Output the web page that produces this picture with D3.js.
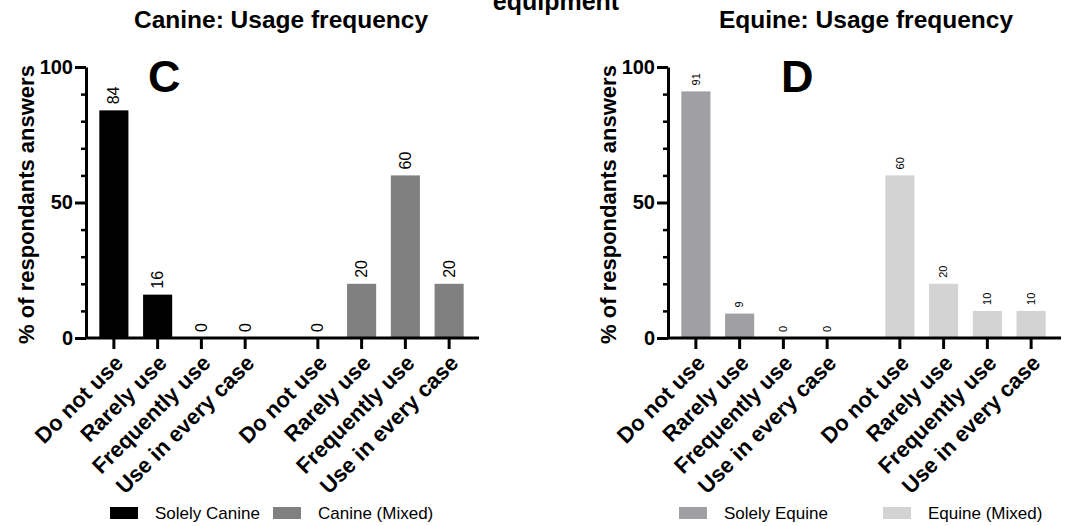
<!DOCTYPE html>
<html>
<head>
<meta charset="utf-8">
<script src="https://cdn.jsdelivr.net/npm/d3@7"></script>
<style>
  html, body { margin: 0; padding: 0; background: #fff; }
  svg { display: block; font-family: "Liberation Sans", Arial, Helvetica, sans-serif; }
</style>
</head>
<body>
<svg id="chart" width="1084" height="526"></svg>
<script>
// Response categories shared by every group
const categories = ["Do not use", "Rarely use", "Frequently use", "Use in every case"];

// Canine panel (C)
const canineSeries = ["Solely Canine", "Canine (Mixed)"];
const canineSolely = [84, 16, 0, 0];
const canineMixed = [0, 20, 60, 20];
const canineColors = ["#000000", "#808080"];

// Equine panel (D)
const equineSeries = ["Solely Equine", "Equine (Mixed)"];
const equineSolely = [91, 9, 0, 0];
const equineMixed = [60, 20, 10, 10];
const equineColors = ["#a0a0a4", "#d3d3d3"];

// Axis ticks
const yMajorTicks = [0, 50, 100];
const yMinorTicks = [10, 20, 30, 40, 60, 70, 80, 90];

const FONT = "\"Liberation Sans\", Arial, sans-serif";
const svg = d3.select("#chart");

// Overall heading (only its last line fits on the canvas)
svg.append("text")
  .attr("x", 556).attr("y", 10)
  .attr("text-anchor", "middle")
  .style("font-weight", "bold").style("font-size", "25px")
  .text("equipment");

function drawPanel(cfg) {
  const ox = cfg.offsetX;
  const g = svg.append("g").attr("transform", `translate(${ox},0)`);

  const yAxisX = 86, axisY = 338, axisEnd = 479;
  const y = d3.scaleLinear().domain([0, 100]).range([axisY, 67]);

  const outer = d3.scaleBand().domain(cfg.series).range([92, 471]).paddingInner(0.142).paddingOuter(0);
  const inner = d3.scaleBand().domain(categories).range([0, outer.bandwidth()]).paddingInner(0.335).paddingOuter(0.1675);

  // Panel title
  g.append("text")
    .attr("x", cfg.titleX).attr("y", 28)
    .attr("text-anchor", "middle")
    .style("font-weight", "bold").style("font-size", "24.5px")
    .text(cfg.title);

  // Panel letter
  g.append("text")
    .attr("x", cfg.letterX).attr("y", 92)
    .style("font-weight", "bold").style("font-size", "45px")
    .text(cfg.letter);

  // Bars and value labels
  cfg.series.forEach((s, si) => {
    const gx = outer(s);
    const grp = g.append("g").attr("transform", `translate(${gx},0)`);
    const rows = categories.map((c, i) => ({ c, v: cfg.values[si][i] }));

    grp.selectAll("rect").data(rows).join("rect")
      .attr("x", d => inner(d.c))
      .attr("width", inner.bandwidth())
      .attr("y", d => y(d.v))
      .attr("height", d => y(0) - y(d.v))
      .attr("fill", cfg.colors[si]);

    grp.selectAll("text.val").data(rows).join("text")
      .attr("class", "val")
      .attr("transform", d => `translate(${inner(d.c) + inner.bandwidth() / 2},${y(d.v) - 6}) rotate(-90)`)
      .attr("dy", "0.35em")
      .style("font-size", cfg.valueFont)
      .style("fill", "#000")
      .text(d => d.v);

    // Category ticks and rotated labels
    const xa = grp.append("g").attr("transform", `translate(0,${axisY})`)
      .call(d3.axisBottom(inner).tickSize(11).tickSizeOuter(0));
    xa.select(".domain").remove();
    xa.selectAll(".tick line").attr("stroke", "#000").attr("stroke-width", 3);
    xa.selectAll(".tick text")
      .attr("x", 0).attr("y", 0).attr("dy", "0.35em")
      .attr("transform", "translate(5,21) rotate(-45)")
      .style("text-anchor", "end")
      .style("font-weight", "bold").style("font-size", "22px")
      .style("font-family", FONT)
      .attr("fill", "#000");
  });

  // X axis baseline
  g.append("line")
    .attr("x1", yAxisX).attr("x2", axisEnd)
    .attr("y1", axisY).attr("y2", axisY)
    .attr("stroke", "#000").attr("stroke-width", 3);

  // Y axis: minor ticks then major ticks with labels
  const yMinor = g.append("g").attr("transform", `translate(${yAxisX},0)`)
    .call(d3.axisLeft(y).tickValues(yMinorTicks).tickSize(5).tickFormat(""));
  yMinor.select(".domain").remove();
  yMinor.selectAll(".tick line").attr("stroke", "#000").attr("stroke-width", 2.5);

  const yMajor = g.append("g").attr("transform", `translate(${yAxisX},0)`)
    .call(d3.axisLeft(y).tickValues(yMajorTicks).tickSize(11).tickSizeOuter(0).tickPadding(2));
  yMajor.select(".domain").attr("stroke", "#000").attr("stroke-width", 3);
  yMajor.selectAll(".tick line").attr("stroke", "#000").attr("stroke-width", 3);
  yMajor.selectAll(".tick text")
    .style("font-weight", "bold").style("font-size", "20px")
    .style("font-family", FONT)
    .attr("fill", "#000");

  // Y axis title
  g.append("text")
    .attr("transform", `translate(34,${(y(0) + y(100)) / 2 + 2}) rotate(-90)`)
    .attr("text-anchor", "middle")
    .style("font-weight", "bold").style("font-size", "22px")
    .text("% of respondants answers");

  // Legend
  const leg = g.append("g");
  cfg.series.forEach((s, si) => {
    leg.append("rect")
      .attr("x", cfg.legendX[si]).attr("y", 507)
      .attr("width", 28).attr("height", 12)
      .attr("fill", cfg.colors[si]);
    leg.append("text")
      .attr("x", cfg.legendX[si] + 45).attr("y", 519)
      .style("font-size", "17px")
      .text(s);
  });
}

drawPanel({
  offsetX: 0,
  title: "Canine: Usage frequency",
  titleX: 281,
  letter: "C",
  letterX: 148,
  series: canineSeries,
  values: [canineSolely, canineMixed],
  colors: canineColors,
  valueFont: "16px",
  legendX: [110, 273]
});

drawPanel({
  offsetX: 582,
  title: "Equine: Usage frequency",
  titleX: 284,
  letter: "D",
  letterX: 199,
  series: equineSeries,
  values: [equineSolely, equineMixed],
  colors: equineColors,
  valueFont: "11px",
  legendX: [97, 301]
});
</script>
</body>
</html>
